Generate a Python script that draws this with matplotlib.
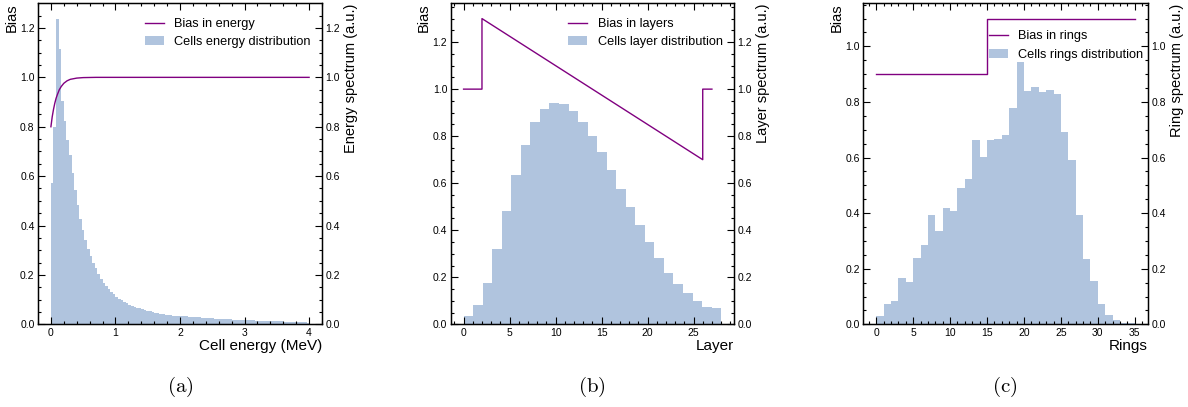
import numpy as np
import matplotlib
matplotlib.use("Agg")
import matplotlib.pyplot as plt
from matplotlib.ticker import MultipleLocator

plt.rcParams['font.family'] = ['Liberation Sans', 'DejaVu Sans']
plt.rcParams['mathtext.fontset'] = 'cm'

# ---------------- data ----------------
# (a) energy
energy_edges = np.linspace(0.0, 4.0, 101)
energy_counts = [
    0.574, 0.800, 1.238, 1.116, 0.903, 0.822, 0.745, 0.687, 0.612, 0.545,
    0.484, 0.426, 0.382, 0.342, 0.305, 0.277, 0.250, 0.227, 0.205, 0.185,
    0.168, 0.154, 0.142, 0.131, 0.121, 0.112, 0.104, 0.097, 0.091, 0.085,
    0.080, 0.075, 0.071, 0.067, 0.064, 0.061, 0.058, 0.055, 0.052, 0.050,
    0.047, 0.045, 0.043, 0.041, 0.039, 0.037, 0.036, 0.035, 0.034, 0.033,
    0.034, 0.033, 0.032, 0.031, 0.030, 0.029, 0.028, 0.028, 0.027, 0.026,
    0.025, 0.025, 0.024, 0.023, 0.023, 0.022, 0.021, 0.021, 0.020, 0.020,
    0.019, 0.019, 0.018, 0.018, 0.017, 0.017, 0.016, 0.016, 0.016, 0.015,
    0.015, 0.014, 0.014, 0.014, 0.013, 0.013, 0.013, 0.012, 0.012, 0.012,
    0.011, 0.011, 0.011, 0.010, 0.010, 0.010, 0.010, 0.009, 0.009, 0.006,
]
energy_bias_x = [0.0, 0.02, 0.04, 0.06, 0.08, 0.10, 0.13, 0.16, 0.20, 0.25,
                 0.30, 0.40, 0.50, 0.70, 1.0, 4.0]
energy_bias_y = [0.80, 0.84, 0.87, 0.895, 0.915, 0.93, 0.95, 0.963, 0.976, 0.986,
                 0.992, 0.997, 0.999, 1.0, 1.0, 1.0]

# (b) layers
layer_edges = np.linspace(0.0, 28.0, 28)
layer_counts = [
    0.036, 0.083, 0.177, 0.319, 0.481, 0.635, 0.763, 0.861, 0.917, 0.942,
    0.937, 0.908, 0.861, 0.801, 0.733, 0.657, 0.576, 0.499, 0.421, 0.349,
    0.280, 0.220, 0.173, 0.134, 0.100, 0.074, 0.070,
]
layer_bias_x = [0, 2, 2, 26, 26, 27]
layer_bias_y = [1.0, 1.0, 1.3, 0.7, 1.0, 1.0]

# (c) rings
ring_edges = np.arange(0, 36)
ring_counts = [
    0.030, 0.073, 0.084, 0.167, 0.153, 0.240, 0.287, 0.395, 0.337, 0.420,
    0.406, 0.489, 0.523, 0.663, 0.602, 0.663, 0.667, 0.682, 0.779, 0.945,
    0.840, 0.854, 0.836, 0.843, 0.829, 0.692, 0.592, 0.392, 0.236, 0.157,
    0.073, 0.034, 0.016, 0.006, 0.003,
]
ring_bias_x = [0, 15, 15, 35]
ring_bias_y = [0.9, 0.9, 1.1, 1.1]

LINE_C = '#800080'
HIST_C = '#B0C4DE'

fig = plt.figure(figsize=(11.88, 4.07), dpi=100)

W, H = 1188.0, 407.0
bottom = 1 - 324.3 / H
height = (324.3 - 3.3) / H
lefts = [38.0, 450.7, 863.3]
widths = [284.0, 283.3, 284.4]

panels = [
    dict(edges=energy_edges, counts=energy_counts, bx=energy_bias_x, by=energy_bias_y,
         lab_line='Bias in energy', lab_hist='Cells energy distribution',
         xlabel='Cell energy (MeV)', rlabel='Energy spectrum (a.u.)',
         xmaj=1, xmin=0.2, cap='(a)', capx=180, leg=(1.0, 0.99)),
    dict(edges=layer_edges, counts=layer_counts, bx=layer_bias_x, by=layer_bias_y,
         lab_line='Bias in layers', lab_hist='Cells layer distribution',
         xlabel='Layer', rlabel='Layer spectrum (a.u.)',
         xmaj=5, xmin=1, cap='(b)', capx=591.7, leg=(1.0, 0.99)),
    dict(edges=ring_edges, counts=ring_counts, bx=ring_bias_x, by=ring_bias_y,
         lab_line='Bias in rings', lab_hist='Cells rings distribution',
         xlabel='Rings', rlabel='Ring spectrum (a.u.)',
         xmaj=5, xmin=1, cap='(c)', capx=1005, leg=(1.025, 0.952)),
]

for i, p in enumerate(panels):
    ax = fig.add_axes([lefts[i] / W, bottom, widths[i] / W, height])
    ax.hist(p['edges'][:-1], bins=p['edges'], weights=p['counts'],
            color=HIST_C, label=p['lab_hist'], zorder=1)
    ax.plot(p['bx'], p['by'], color=LINE_C, lw=1.0, label=p['lab_line'], zorder=3)
    ax.set_ylim(bottom=0)
    ax.xaxis.set_major_locator(MultipleLocator(p['xmaj']))
    ax.xaxis.set_minor_locator(MultipleLocator(p['xmin']))
    ax.yaxis.set_major_locator(MultipleLocator(0.2))
    ax.yaxis.set_minor_locator(MultipleLocator(0.05))
    ax.tick_params(which='both', direction='in', top=True, right=False, labelsize=7.5,
                   width=0.8, pad=2.5)
    ax.tick_params(which='major', length=5)
    ax.tick_params(which='minor', length=2.5)
    ax.set_xlabel(p['xlabel'], loc='right', fontsize=11, labelpad=1)
    ax.set_ylabel('Bias', loc='top', fontsize=10.5, labelpad=1)
    for s in ax.spines.values():
        s.set_linewidth(1.0)

    ax2 = ax.twinx()
    ax2.set_ylim(ax.get_ylim())
    ax2.yaxis.set_major_locator(MultipleLocator(0.2))
    ax2.yaxis.set_minor_locator(MultipleLocator(0.05))
    ax2.tick_params(which='both', direction='in', labelsize=7.5, width=0.8, pad=2.5)
    ax2.tick_params(which='major', length=5)
    ax2.tick_params(which='minor', length=2.5)
    ax2.set_ylabel(p['rlabel'], loc='top', fontsize=10.5, labelpad=3)

    h, l = ax.get_legend_handles_labels()
    order = [1, 0]
    handles = [h[k] for k in order]
    labels = [l[k] for k in order]
    ax2.legend(handles, labels, loc='upper right', bbox_to_anchor=p['leg'],
               frameon=False, fontsize=9.2,
               handlelength=1.5, handletextpad=0.8, labelspacing=0.5)

    fig.text(p['capx'] / W, 1 - 386.7 / H, r'$\mathrm{' + p['cap'] + '}$',
             ha='center', va='center', fontsize=15)

fig.savefig('out.png', dpi=100)
